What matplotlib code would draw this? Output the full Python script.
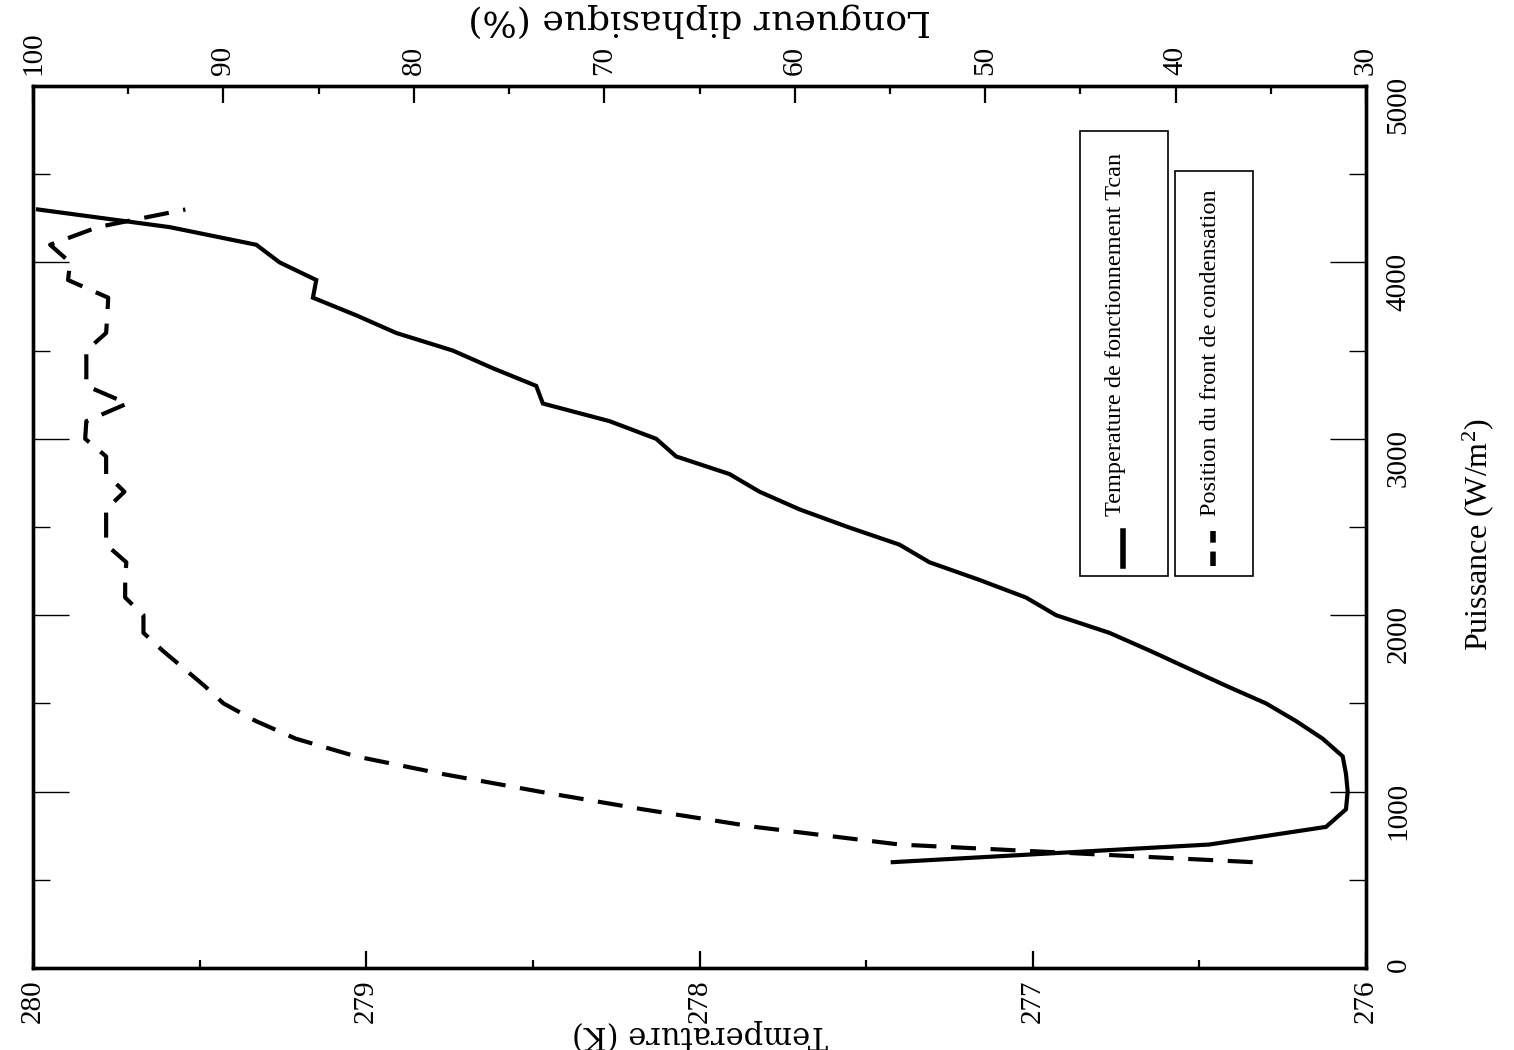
import matplotlib
matplotlib.use("Agg")
import matplotlib.pyplot as plt
from matplotlib.patches import Rectangle
from matplotlib.lines import Line2D
from matplotlib.ticker import MultipleLocator

# ---- data ----
puissance_T = [600, 700, 800, 900, 1000, 1100, 1200, 1300, 1400, 1500, 1600, 1700, 1800,
               1900, 2000, 2100, 2200, 2300, 2400, 2500, 2600, 2700, 2800, 2900, 3000,
               3100, 3200, 3300, 3400, 3500, 3600, 3700, 3800, 3900, 4000, 4100, 4200, 4300]
temperature = [277.42, 276.47, 276.12, 276.06, 276.055, 276.06, 276.07, 276.13, 276.21, 276.30,
               276.42, 276.535, 276.65, 276.77, 276.93, 277.02, 277.16, 277.31, 277.40, 277.555,
               277.70, 277.82, 277.91, 278.07, 278.13, 278.27, 278.47, 278.49, 278.62, 278.74,
               278.91, 279.03, 279.16, 279.15, 279.26, 279.33, 279.59, 279.985]

puissance_L = [600, 700, 800, 900, 1000, 1100, 1200, 1300, 1400, 1500, 1600, 1700, 1800,
               1900, 2000, 2100, 2200, 2300, 2400, 2500, 2600, 2700, 2800, 2900, 3000,
               3100, 3200, 3300, 3400, 3500, 3600, 3700, 3800, 3900, 4000, 4100, 4200, 4300]
longueur = [35.95, 54.5, 62.1, 68.0, 73.4, 78.5, 83.05, 86.2, 88.3, 90.0, 91.0, 92.1, 93.2,
            94.2, 94.2, 95.16, 95.16, 95.1, 96.16, 96.16, 96.16, 95.2, 96.16, 96.16, 97.26,
            97.2, 95.05, 97.2, 97.2, 97.2, 96.16, 96.1, 96.05, 98.16, 98.05, 99.1, 96.6, 92.0]

temp_ticks = [276, 277, 278, 279, 280]
long_ticks = [30, 40, 50, 60, 70, 80, 90, 100]
puis_ticks = [0, 1000, 2000, 3000, 4000, 5000]

label_T = "Temperature de fonctionnement Tcan"
label_L = "Position du front de condensation"

# ---- style ----
plt.rcParams['font.family'] = ['Liberation Serif', 'DejaVu Serif']
plt.rcParams['mathtext.default'] = 'regular'

W, H = 1514, 1050
fig = plt.figure(figsize=(W / 100, H / 100), dpi=100)
ax = fig.add_axes([33 / W, 82 / H, 1333 / W, 882 / H])

ax.plot(temperature, puissance_T, color='black', lw=3, solid_joinstyle='miter')
ax.set_xlim(280, 276)
ax.set_ylim(0, 5000)

ax2 = ax.twiny()
ax2.plot(longueur, puissance_L, color='black', lw=3, dashes=(6, 3.5))
ax2.set_xlim(100, 30)

TL = 21  # tick label size

ax.set_xticks(temp_ticks)
ax.set_xticklabels([str(t) for t in temp_ticks])
ax.xaxis.set_minor_locator(MultipleLocator(0.5))
ax.tick_params(axis='x', which='major', direction='in', length=12, width=1.6,
               labelsize=TL, labelrotation=90, pad=8, top=False)
ax.tick_params(axis='x', which='minor', direction='in', length=6, width=1.6, top=False)

ax.set_yticks(puis_ticks)
ax.set_yticklabels([str(p) for p in puis_ticks])
ax.yaxis.set_minor_locator(MultipleLocator(500))
ax.tick_params(axis='y', which='both', direction='in', left=True, right=True,
               labelleft=False, labelright=True)
ax.tick_params(axis='y', which='major', length=26, width=1.0, labelsize=TL,
               labelrotation=90, pad=14)
ax.tick_params(axis='y', which='minor', length=12, width=1.0)

ax2.set_xticks(long_ticks)
ax2.set_xticklabels([str(v) for v in long_ticks])
ax2.xaxis.set_minor_locator(MultipleLocator(5))
ax2.tick_params(axis='x', which='major', direction='in', length=12, width=1.6,
                labelsize=TL, labelrotation=90, pad=8)
ax2.tick_params(axis='x', which='minor', direction='in', length=6, width=1.6)

for a in (ax, ax2):
    for s in a.spines.values():
        s.set_linewidth(2.4)

# axis labels (chart is drawn rotated)
fig.text(700 / W, 1 - 1035 / H, "Temperature (K)", rotation=180, ha='center', va='center',
         family='DejaVu Serif', fontsize=22)
fig.text(700 / W, 1 - 20 / H, "Longueur diphasique (%)", rotation=180, ha='center',
         va='center', family='DejaVu Serif', fontsize=26)
fig.text(1478 / W, 1 - 535 / H, "Puissance (W/m$^{2}$)", rotation=90, ha='center',
         va='center', fontsize=23)

# legend boxes (rotated)
def axfrac(px, py):
    return ((px - 33) / 1333, (964 - py) / 882)

def legend_box(x0, x1, ytop, ybot, lx, tx, label, dashed):
    (fx0, fy0) = axfrac(x0, ybot)
    (fx1, fy1) = axfrac(x1, ytop)
    ax.add_patch(Rectangle((fx0, fy0), fx1 - fx0, fy1 - fy0, transform=ax.transAxes,
                           facecolor='white', edgecolor='black', lw=1.2, zorder=5))
    (lxf, ly0) = axfrac(lx, 562)
    (_, ly1) = axfrac(lx, 527)
    ln = Line2D([lxf, lxf], [ly0, ly1], transform=ax.transAxes, color='black', lw=4,
                zorder=6)
    if dashed:
        ln.set_dashes((2.6, 1.6))
    ax.add_line(ln)
    (txf, tyf) = axfrac(tx, 512)
    ax.text(txf, tyf, label, transform=ax.transAxes, rotation=90, ha='center',
            va='bottom', fontsize=17.5, zorder=7)

legend_box(1080, 1168, 127, 572, 1123, 1116, label_T, False)
legend_box(1175, 1253, 167, 572, 1213, 1210, label_L, True)

fig.savefig("out.png", dpi=100)
